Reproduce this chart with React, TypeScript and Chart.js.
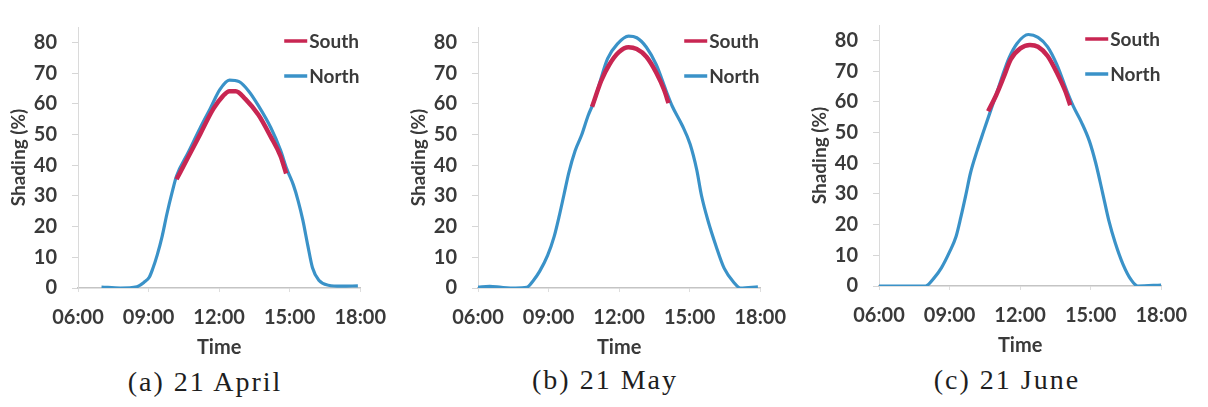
import React, { useEffect, useRef } from "react";
import { Chart, registerables } from "chart.js";

Chart.register(...registerables);

// ---------- data ----------
const xTicks = [6, 9, 12, 15, 18];
const yTicks = [0, 10, 20, 30, 40, 50, 60, 70, 80];
const seriesLabels = ["South", "North"];
const captions = ["(a) 21 April", "(b) 21 May", "(c) 21 June"];

const aprilNorthHours = [7.0, 7.8, 8.5, 8.83, 9.03, 9.17, 9.37, 9.58, 9.78, 9.99, 10.19, 10.67, 11.2, 11.62, 12.03, 12.44, 12.85, 13.26, 13.67, 14.2, 14.61, 14.88, 15.16, 15.36, 15.56, 15.77, 15.97, 16.24, 16.65, 17.2, 17.9];
const aprilNorth = [0.3, 0, 0.4, 2, 3.5, 6.1, 10.8, 16.9, 24.1, 30.8, 36.5, 43.9, 52.2, 58.4, 64.6, 67.7, 67.2, 64.1, 59.4, 52.2, 44.9, 38.7, 33.5, 28.4, 22.1, 13.9, 6.6, 2.5, 0.9, 0.6, 0.7];
const aprilSouthHours = [10.19, 10.67, 11.2, 11.76, 12.16, 12.44, 12.71, 13.12, 13.67, 14.2, 14.61, 14.85];
const aprilSouth = [35.4, 42.4, 50.2, 58.4, 62.5, 64.1, 64.1, 61.5, 56.4, 49.2, 43, 37.3];

const mayNorthHours = [6.0, 6.5, 7.0, 7.6, 8.07, 8.34, 8.62, 8.96, 9.24, 9.44, 9.65, 9.86, 10.13, 10.41, 10.68, 10.96, 11.24, 11.51, 11.92, 12.4, 12.75, 13.16, 13.58, 13.99, 14.26, 14.68, 15.02, 15.3, 15.5, 15.78, 16.12, 16.47, 16.88, 17.16, 17.9];
const mayNorth = [0.3, 0.5, 0.2, 0, 0.2, 2.3, 5.4, 10.6, 16.8, 23, 30.2, 37.5, 44.7, 49.9, 56.1, 61.3, 68.5, 74.7, 79.4, 82, 81.5, 78.4, 72.7, 64.4, 59.2, 53, 46.8, 38.5, 30.2, 21.9, 13.7, 6.4, 1.8, 0, 0.4];
const maySouthHours = [10.85, 11.24, 11.58, 11.99, 12.4, 12.75, 13.16, 13.58, 13.92, 14.1];
const maySouth = [59, 67.5, 72.7, 76.8, 78.4, 77.8, 75.3, 70.1, 64.4, 60.2];

const juneNorthHours = [6.0, 7.0, 7.98, 8.32, 8.66, 9.0, 9.28, 9.48, 9.69, 9.89, 10.17, 10.44, 10.71, 10.99, 11.26, 11.53, 11.87, 12.35, 12.76, 13.17, 13.58, 13.99, 14.27, 14.61, 14.95, 15.22, 15.5, 15.77, 16.04, 16.38, 16.73, 17.0, 18.0];
const juneNorth = [0, 0, 0, 2.4, 6, 11.1, 16.2, 22.4, 29.6, 36.8, 44, 50.2, 56.3, 62.5, 68.7, 74.3, 79, 81.9, 81, 77.9, 71.8, 63.5, 58.4, 53.3, 47.1, 39.9, 30.6, 21.4, 14.2, 7, 1.9, 0, 0.3];
const juneSouthHours = [10.64, 10.99, 11.3, 11.6, 12.01, 12.42, 12.76, 13.17, 13.58, 13.92, 14.13];
const juneSouth = [56.9, 62.3, 68, 73.8, 77.4, 78.5, 77.9, 74.9, 69.2, 63.5, 58.9];

// ---------- styling ----------
const RED = "rgb(200, 38, 82)";
const BLUE = "rgb(58, 146, 200)";
const TEXT = "#3a3a3a";
const FONT = "Lato, 'Open Sans', sans-serif";

const toPoints = (xs: number[], ys: number[]) => xs.map((x, i) => ({ x, y: ys[i] }));
const fmtHour = (v: number) => `${String(v).padStart(2, "0")}:00`;

const legendPlugin = {
  id: "insideLegend",
  afterDraw(chart: any) {
    const { ctx, chartArea } = chart;
    chart.data.datasets.forEach((ds: any, i: number) => {
      const y = chartArea.top + 14 + i * 35;
      ctx.save();
      ctx.strokeStyle = ds.borderColor;
      ctx.lineWidth = 3.5;
      ctx.beginPath();
      ctx.moveTo(chartArea.right - 76, y);
      ctx.lineTo(chartArea.right - 53, y);
      ctx.stroke();
      ctx.fillStyle = TEXT;
      ctx.font = `bold 19px ${FONT}`;
      ctx.textBaseline = "middle";
      ctx.textAlign = "left";
      ctx.fillText(ds.label, chartArea.right - 51, y + 1);
      ctx.restore();
    });
  },
};

type PanelProps = {
  left: number;
  top: number;
  north: { x: number; y: number }[];
  south: { x: number; y: number }[];
};

function Panel({ left, top, north, south }: PanelProps) {
  const ref = useRef<HTMLCanvasElement | null>(null);
  useEffect(() => {
    if (!ref.current) return;
    const chart = new Chart(ref.current, {
      type: "line",
      data: {
        datasets: [
          {
            label: seriesLabels[0],
            data: south,
            borderColor: RED,
            backgroundColor: RED,
            borderWidth: 4.5,
            pointRadius: 0,
            cubicInterpolationMode: "monotone",
            fill: false,
          },
          {
            label: seriesLabels[1],
            data: north,
            borderColor: BLUE,
            backgroundColor: BLUE,
            borderWidth: 3.2,
            pointRadius: 0,
            cubicInterpolationMode: "monotone",
            fill: false,
          },
        ],
      },
      options: {
        animation: false,
        responsive: false,
        maintainAspectRatio: false,
        layout: { padding: { left: 0, right: 27, top: 14, bottom: 0 } },
        plugins: { legend: { display: false }, tooltip: { enabled: false } },
        scales: {
          x: {
            type: "linear",
            min: 6,
            max: 18,
            afterBuildTicks: (s: any) => {
              s.ticks = xTicks.map((v) => ({ value: v }));
            },
            afterFit: (s: any) => {
              s.height = 72;
            },
            ticks: {
              callback: (v: any) => fmtHour(Number(v)),
              padding: 14,
              maxRotation: 0,
              autoSkip: false,
              color: TEXT,
              font: { family: FONT, size: 20, weight: "bold" },
            },
            grid: { drawOnChartArea: false, tickLength: 4, color: "#dedede" },
            border: { color: "#c4c4c4", width: 1.5 },
            title: {
              display: true,
              text: "Time",
              color: TEXT,
              font: { family: FONT, size: 20, weight: "bold", lineHeight: 1.2 },
              padding: { top: 1, bottom: 0 },
            },
          },
          y: {
            min: 0,
            max: 85,
            afterBuildTicks: (s: any) => {
              s.ticks = yTicks.map((v) => ({ value: v }));
            },
            afterFit: (s: any) => {
              s.width = 78;
            },
            ticks: {
              padding: 15,
              color: TEXT,
              font: { family: FONT, size: 20, weight: "bold" },
            },
            grid: { drawOnChartArea: false, tickLength: 6, color: "#d6d6d6" },
            border: { color: "#dadada", width: 1 },
            title: {
              display: true,
              text: "Shading (%)",
              color: TEXT,
              font: { family: FONT, size: 19, weight: "bold", lineHeight: 1.2 },
              padding: { top: 7.6, bottom: 0 },
            },
          },
        },
      },
      plugins: [legendPlugin],
    } as any);
    return () => chart.destroy();
  }, [north, south]);

  return (
    <canvas
      ref={ref}
      width={400}
      height={360}
      style={{ position: "absolute", left, top, width: 400, height: 360 }}
    />
  );
}

const panels = [
  { left: 0, top: 0, north: toPoints(aprilNorthHours, aprilNorth), south: toPoints(aprilSouthHours, aprilSouth), cx: 205, ct: 367 },
  { left: 400, top: 0, north: toPoints(mayNorthHours, mayNorth), south: toPoints(maySouthHours, maySouth), cx: 605, ct: 365 },
  { left: 801, top: -2, north: toPoints(juneNorthHours, juneNorth), south: toPoints(juneSouthHours, juneSouth), cx: 1007, ct: 365 },
];

export default function App() {
  return (
    <div
      style={{
        position: "absolute",
        left: 0,
        top: 0,
        width: 1208,
        height: 407,
        background: "#ffffff",
        overflow: "hidden",
      }}
    >
      {panels.map((p, i) => (
        <Panel key={i} left={p.left} top={p.top} north={p.north} south={p.south} />
      ))}
      {panels.map((p, i) => (
        <div
          key={"c" + i}
          style={{
            position: "absolute",
            left: p.cx - 150,
            top: p.ct,
            width: 300,
            textAlign: "center",
            fontFamily: "'Liberation Serif', 'DejaVu Serif', serif",
            fontSize: 28,
            lineHeight: "30px",
            letterSpacing: "2px",
            color: "#1e1e1e",
            whiteSpace: "nowrap",
          }}
        >
          {captions[i]}
        </div>
      ))}
    </div>
  );
}
